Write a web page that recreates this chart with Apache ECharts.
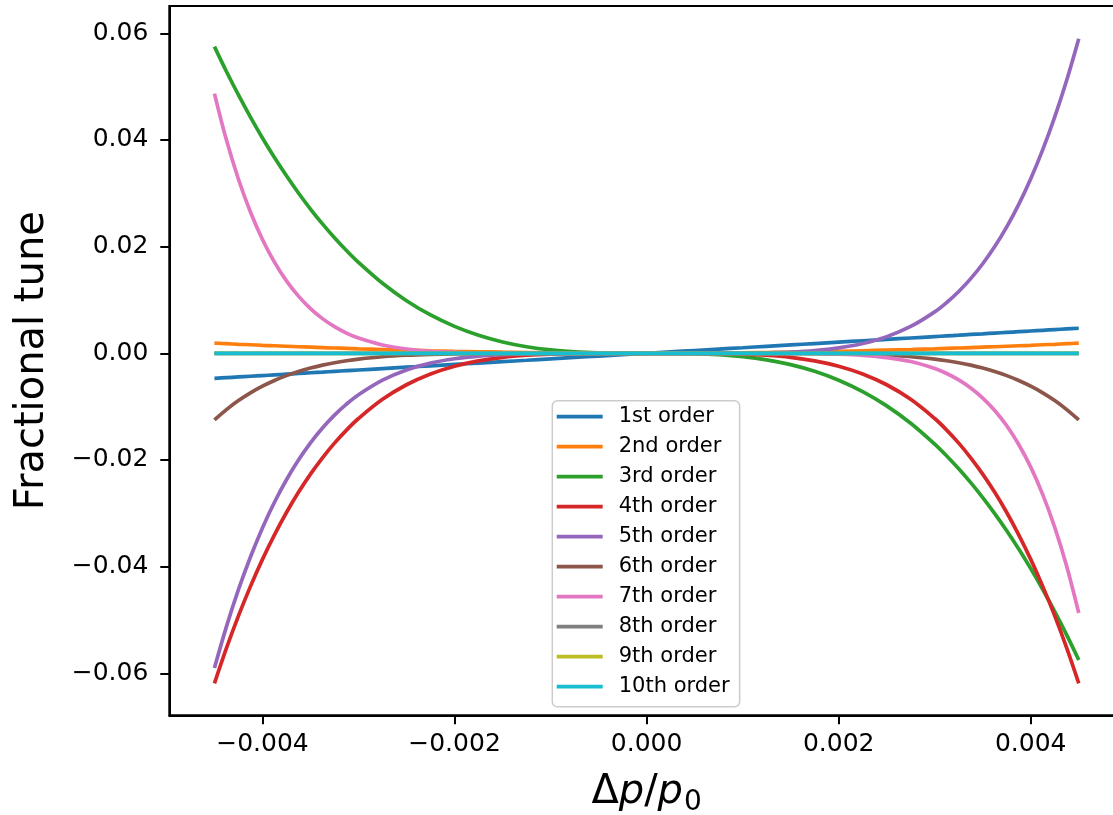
<!DOCTYPE html>
<html><head><meta charset="utf-8">
<script src="https://cdn.jsdelivr.net/npm/echarts@6/dist/echarts.min.js"></script>
<style>html,body{margin:0;padding:0;background:#fff}#c{width:1113px;height:815px}</style>
</head><body><div id="c"></div><script>
// x samples (Δp/p0), denser near the ends where the curves are steep
const dp = [-0.0045,-0.004375,-0.00425,-0.004125,-0.004,-0.003875,-0.00375,-0.003625,-0.0035,-0.003375,-0.00325,-0.003125,-0.003,
  -0.00275,-0.0025,-0.00225,-0.002,-0.00175,-0.0015,-0.00125,-0.001,-0.00075,-0.0005,-0.00025,0,0.00025,0.0005,0.00075,0.001,0.00125,0.0015,0.00175,0.002,0.00225,0.0025,0.00275,
  0.003,0.003125,0.00325,0.003375,0.0035,0.003625,0.00375,0.003875,0.004,0.004125,0.00425,0.004375,0.0045];
const order1 = [-0.0047,-0.00457,-0.00444,-0.00431,-0.00418,-0.00405,-0.00392,-0.00379,-0.00365,-0.00353,-0.00339,-0.00326,-0.00313,
  -0.00287,-0.00261,-0.00235,-0.00209,-0.00183,-0.00157,-0.00131,-0.00104,-0.00078,-0.00052,-0.00026,0,0.00026,0.00052,0.00078,0.00104,0.00131,0.00157,0.00183,0.00209,0.00235,0.00261,0.00287,
  0.00313,0.00326,0.00339,0.00353,0.00365,0.00379,0.00392,0.00405,0.00418,0.00431,0.00444,0.00457,0.0047];
const order2 = [0.0019,0.0018,0.00169,0.0016,0.0015,0.00141,0.00132,0.00123,0.00115,0.00107,0.00099,0.00092,0.00084,
  0.00071,0.00059,0.00048,0.00038,0.00029,0.00021,0.00015,0.00009,0.00005,0.00002,0.00001,0,0.00001,0.00002,0.00005,0.00009,0.00015,0.00021,0.00029,0.00038,0.00048,0.00059,0.00071,
  0.00084,0.00092,0.00099,0.00107,0.00115,0.00123,0.00132,0.00141,0.0015,0.0016,0.00169,0.0018,0.0019];
const order3 = [0.0575,0.05284,0.04844,0.04429,0.04038,0.03671,0.03328,0.03006,0.02705,0.02426,0.02166,0.01926,0.01704,
  0.01312,0.00986,0.00719,0.00505,0.00338,0.00213,0.00123,0.00063,0.00027,0.00008,0.00001,0,-0.00001,-0.00008,-0.00027,-0.00063,-0.00123,-0.00213,-0.00338,-0.00505,-0.00719,-0.00986,-0.01312,
  -0.01704,-0.01926,-0.02166,-0.02426,-0.02705,-0.03006,-0.03328,-0.03671,-0.04038,-0.04429,-0.04844,-0.05284,-0.0575];
const order4 = [-0.0619,-0.0553,-0.04925,-0.04371,-0.03864,-0.03404,-0.02985,-0.02607,-0.02265,-0.01959,-0.01684,-0.0144,-0.01223,
  -0.00863,-0.0059,-0.00387,-0.00242,-0.00142,-0.00076,-0.00037,-0.00015,-0.00005,-0.00001,0,0,0,-0.00001,-0.00005,-0.00015,-0.00037,-0.00076,-0.00142,-0.00242,-0.00387,-0.0059,-0.00863,
  -0.01223,-0.0144,-0.01684,-0.01959,-0.02265,-0.02607,-0.02985,-0.03404,-0.03864,-0.04371,-0.04925,-0.0553,-0.0619];
const order5 = [-0.059,-0.05125,-0.04433,-0.03819,-0.03274,-0.02793,-0.02371,-0.02001,-0.01679,-0.014,-0.01159,-0.00953,-0.00777,
  -0.00503,-0.00312,-0.00184,-0.00102,-0.00052,-0.00024,-0.0001,-0.00003,-0.00001,0,0,0,0,0,0.00001,0.00003,0.0001,0.00024,0.00052,0.00102,0.00184,0.00312,0.00503,
  0.00777,0.00953,0.01159,0.014,0.01679,0.02001,0.02371,0.02793,0.03274,0.03819,0.04433,0.05125,0.059];
const order6 = [-0.0125,-0.01056,-0.00887,-0.00742,-0.00617,-0.0051,-0.00419,-0.00342,-0.00277,-0.00222,-0.00177,-0.0014,-0.0011,
  -0.00065,-0.00037,-0.0002,-0.0001,-0.00004,-0.00002,-0.00001,0,0,0,0,0,0,0,0,0,-0.00001,-0.00002,-0.00004,-0.0001,-0.0002,-0.00037,-0.00065,
  -0.0011,-0.0014,-0.00177,-0.00222,-0.00277,-0.00342,-0.00419,-0.0051,-0.00617,-0.00742,-0.00887,-0.01056,-0.0125];
const order7 = [0.0487,0.03998,0.03264,0.02649,0.02135,0.0171,0.01359,0.01072,0.00839,0.0065,0.00499,0.00379,0.00285,
  0.00155,0.0008,0.00038,0.00017,0.00007,0.00002,0.00001,0,0,0,0,0,0,0,0,0,-0.00001,-0.00002,-0.00007,-0.00017,-0.00038,-0.0008,-0.00155,
  -0.00285,-0.00379,-0.00499,-0.0065,-0.00839,-0.01072,-0.01359,-0.0171,-0.02135,-0.02649,-0.03264,-0.03998,-0.0487];
const order8 = [0,0,0,0,0,0,0,0,0,0,0,0,0, 0,0,0,0,0,0,0,0,0,0,0,0,0,0,0,0,0,0,0,0,0,0,0, 0,0,0,0,0,0,0,0,0,0,0,0,0];
const order9 = [0,0,0,0,0,0,0,0,0,0,0,0,0, 0,0,0,0,0,0,0,0,0,0,0,0,0,0,0,0,0,0,0,0,0,0,0, 0,0,0,0,0,0,0,0,0,0,0,0,0];
const order10 = [0,0,0,0,0,0,0,0,0,0,0,0,0, 0,0,0,0,0,0,0,0,0,0,0,0,0,0,0,0,0,0,0,0,0,0,0, 0,0,0,0,0,0,0,0,0,0,0,0,0];
const seriesNames = ['1st order','2nd order','3rd order','4th order','5th order','6th order','7th order','8th order','9th order','10th order'];
const seriesValues = [order1,order2,order3,order4,order5,order6,order7,order8,order9,order10];
const colors = ['#1f77b4','#ff7f0e','#2ca02c','#d62728','#9467bd','#8c564b','#e377c2','#7f7f7f','#bcbd22','#17becf'];
const xTicks = [-0.004,-0.002,0,0.002,0.004];
const yTicks = [-0.06,-0.04,-0.02,0,0.02,0.04,0.06];

const FONT = 'DejaVu Sans';
const fmt = (v, d) => (v < -1e-12 ? '\u2212' : '') + Math.abs(v).toFixed(d);

const chart = echarts.init(document.getElementById('c'), null, {renderer: 'canvas'});
chart.setOption({
  animation: false,
  backgroundColor: '#ffffff',
  color: colors,
  grid: {
    left: 169.3, top: 6, width: 954.6, height: 709.3,
    show: true, borderColor: '#000', borderWidth: 2, backgroundColor: 'transparent',
    containLabel: false, outerBoundsMode: 'none'
  },
  xAxis: {
    type: 'value', min: -0.00497, max: 0.00497,
    axisLine: {show: true, onZero: false, lineStyle: {color: '#000', width: 2}},
    axisTick: {show: true, inside: false, length: 9, lineStyle: {color: '#000', width: 2}, customValues: xTicks},
    axisLabel: {show: true, customValues: xTicks, formatter: v => fmt(v, 3), fontFamily: FONT, fontSize: 25, color: '#000', margin: 17},
    splitLine: {show: false},
    name: '{a|\u0394}{b|p}{a|/}{b|p}{s|0}',
    nameLocation: 'middle', nameGap: 51, nameMoveOverlap: false,
    nameTextStyle: {
      fontFamily: FONT, fontSize: 40, color: '#000',
      rich: {
        a: {fontFamily: FONT, fontSize: 40, color: '#000', verticalAlign: 'bottom', lineHeight: 46},
        b: {fontFamily: FONT, fontSize: 40, fontStyle: 'italic', color: '#000', verticalAlign: 'bottom', lineHeight: 46},
        s: {fontFamily: FONT, fontSize: 28, color: '#000', verticalAlign: 'bottom', lineHeight: 46, padding: [0, 0, -4, 1]}
      }
    }
  },
  yAxis: {
    type: 'value', min: -0.06788, max: 0.06512,
    axisLine: {show: true, onZero: false, lineStyle: {color: '#000', width: 2}},
    axisTick: {show: true, inside: false, length: 9, lineStyle: {color: '#000', width: 2}, customValues: yTicks},
    axisLabel: {show: true, customValues: yTicks, formatter: v => fmt(v, 2), fontFamily: FONT, fontSize: 25, color: '#000', margin: 21},
    splitLine: {show: false},
    name: 'Fractional tune', nameLocation: 'middle', nameGap: 117, nameRotate: 90, nameMoveOverlap: false,
    nameTextStyle: {fontFamily: FONT, fontSize: 40, color: '#000'}
  },
  legend: {
    show: true, orient: 'vertical', left: 552.3, top: 400.7,
    icon: 'rect', itemWidth: 46, itemHeight: 3.7, itemGap: 8,
    padding: [5, 10, 9, 4.4],
    backgroundColor: 'rgba(255,255,255,0.8)', borderColor: '#cccccc', borderWidth: 1.5, borderRadius: 5,
    textStyle: {fontFamily: FONT, fontSize: 21, color: '#000', lineHeight: 22, padding: [0, 0, 0, 11]},
    data: seriesNames
  },
  series: seriesNames.map((name, i) => ({
    name, type: 'line', showSymbol: false, symbol: 'none', smooth: 0.35, clip: true,
    data: dp.map((x, j) => [x, seriesValues[i][j]]),
    lineStyle: {width: 3.7, color: colors[i], cap: 'butt'},
    itemStyle: {color: colors[i]},
    emphasis: {disabled: true}
  }))
});
</script></body></html>
